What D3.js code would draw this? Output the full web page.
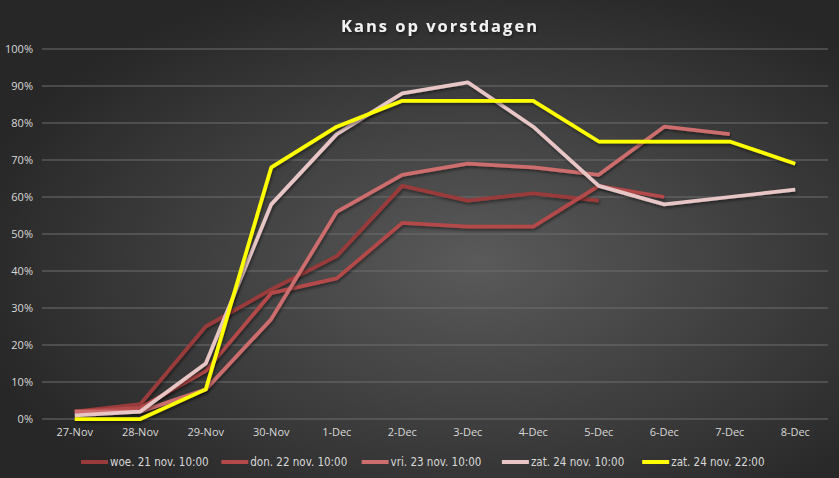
<!DOCTYPE html>
<html>
<head>
<meta charset="utf-8">
<script src="https://cdn.jsdelivr.net/npm/d3@7"></script>
<style>
  html, body { margin: 0; padding: 0; background: #333; }
  svg { display: block; }
  .tick text { fill: #d9d9d9; }
</style>
</head>
<body>
<div id="chart"></div>
<script>
const days = ["27-Nov", "28-Nov", "29-Nov", "30-Nov", "1-Dec", "2-Dec",
  "3-Dec", "4-Dec", "5-Dec", "6-Dec", "7-Dec", "8-Dec"];
const seriesNames = ["woe. 21 nov. 10:00", "don. 22 nov. 10:00", "vri. 23 nov. 10:00",
  "zat. 24 nov. 10:00", "zat. 24 nov. 22:00"];
const seriesColors = ["#9a3b3b", "#b4494a", "#cd6d6d", "#e8c6c6", "#ffff00"];
// percentages per day, null where a forecast had no value
const woe21 = [2, 4, 25, 35, 44, 63, 59, 61, 59, null, null, null];
const don22 = [2, 3, 13, 34, 38, 53, 52, 52, 63, 60, null, null];
const vri23 = [2, 2, 8, 27, 56, 66, 69, 68, 66, 79, 77, null];
const zat24a = [1, 2, 15, 58, 77, 88, 91, 79, 63, 58, 60, 62];
const zat24b = [0, 0, 8, 68, 79, 86, 86, 86, 75, 75, 75, 69];
const yTicks = [0, 10, 20, 30, 40, 50, 60, 70, 80, 90, 100];

const width = 839, height = 478;
const margin = { top: 49, right: 11, bottom: 59, left: 42 };
const series = [woe21, don22, vri23, zat24a, zat24b].map((values, i) => ({
  name: seriesNames[i], color: seriesColors[i], values: values
}));

const svg = d3.select("#chart").append("svg")
  .attr("width", width)
  .attr("height", height);

const defs = svg.append("defs");
const bg = defs.append("radialGradient")
  .attr("id", "bg")
  .attr("cx", "57%").attr("cy", "55%").attr("r", "62%");
bg.append("stop").attr("offset", "0%").attr("stop-color", "#5a5a5a");
bg.append("stop").attr("offset", "100%").attr("stop-color", "#272727");

const shadow = defs.append("filter").attr("id", "shadow")
  .attr("x", "-5%").attr("y", "-5%").attr("width", "110%").attr("height", "120%");
shadow.append("feDropShadow")
  .attr("dx", 1).attr("dy", 2).attr("stdDeviation", 1.5)
  .attr("flood-color", "#000").attr("flood-opacity", 0.45);

svg.append("rect")
  .attr("width", width).attr("height", height)
  .attr("fill", "url(#bg)");

const x = d3.scaleBand()
  .domain(days)
  .range([margin.left, width - margin.right]);

const y = d3.scaleLinear()
  .domain([0, 100])
  .range([height - margin.bottom, margin.top]);

// gridlines
svg.append("g")
  .selectAll("line")
  .data(yTicks)
  .enter().append("line")
  .attr("x1", margin.left)
  .attr("x2", width - margin.right)
  .attr("y1", d => y(d))
  .attr("y2", d => y(d))
  .attr("stroke", "#6e6e6e")
  .attr("stroke-width", 1);

const yAxis = svg.append("g")
  .attr("transform", `translate(${margin.left},0)`)
  .call(d3.axisLeft(y).tickValues(yTicks).tickFormat(d => d + "%").tickSize(0).tickPadding(9));
yAxis.select(".domain").remove();
yAxis.selectAll("text")
  .style("font-family", "'Open Sans', sans-serif")
  .style("font-size", "11px");

const xAxis = svg.append("g")
  .attr("transform", `translate(0,${height - margin.bottom})`)
  .call(d3.axisBottom(x).tickSize(0).tickPadding(9));
xAxis.select(".domain").remove();
xAxis.selectAll("text")
  .style("font-family", "'Open Sans', sans-serif")
  .style("font-size", "11px");

const line = d3.line()
  .defined(d => d != null)
  .x((d, i) => x(days[i]) + x.bandwidth() / 2)
  .y(d => y(d));

svg.append("g")
  .selectAll("path")
  .data(series)
  .enter().append("path")
  .attr("d", d => line(d.values))
  .attr("fill", "none")
  .attr("stroke", d => d.color)
  .attr("stroke-width", 3.75)
  .attr("stroke-linejoin", "round")
  .attr("filter", "url(#shadow)");

// title
svg.append("text")
  .attr("x", 440)
  .attr("y", 32)
  .attr("text-anchor", "middle")
  .attr("fill", "#f2f2f2")
  .style("font-family", "'Open Sans', sans-serif")
  .style("font-weight", "bold")
  .style("font-size", "16.5px")
  .style("letter-spacing", "2px")
  .attr("filter", "url(#shadow)")
  .text("Kans op vorstdagen");

// legend
const legend = svg.append("g")
  .selectAll("g")
  .data(series)
  .enter().append("g")
  .attr("transform", (d, i) => `translate(${81 + i * 140.3},462)`);

legend.append("line")
  .attr("x1", 0).attr("x2", 27)
  .attr("stroke", d => d.color)
  .attr("stroke-width", 4);

legend.append("text")
  .attr("x", 29)
  .attr("dy", "0.35em")
  .attr("fill", "#d9d9d9")
  .style("font-family", "'Liberation Sans Narrow', 'DejaVu Sans Condensed', sans-serif")
  .style("font-size", "11.5px")
  .text(d => d.name);
</script>
</body>
</html>
